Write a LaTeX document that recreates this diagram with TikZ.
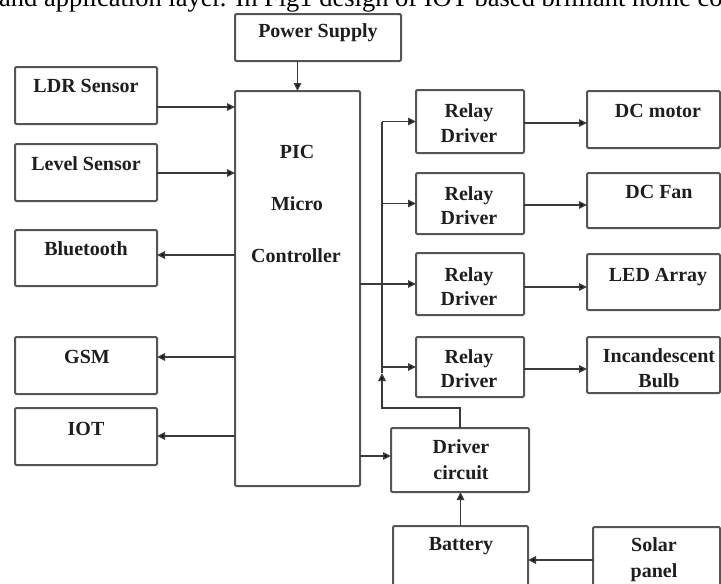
\documentclass[tikz,border=0pt]{standalone}
\usepackage{fontspec}
\setmainfont{Liberation Serif}
\usetikzlibrary{arrows.meta,fit}
\definecolor{boxc}{HTML}{555555}
\definecolor{linec}{HTML}{3A3A3A}
\definecolor{txtc}{HTML}{1E1E1E}
\begin{document}
\begin{tikzpicture}[x=1pt,y=-1pt,
  box/.style={draw=boxc, line width=2pt, rounded corners=1.2pt, inner sep=0pt, outer sep=0pt},
  txt/.style={font=\bfseries\fontsize{20}{24}\selectfont, inner sep=0pt, anchor=base, text=txtc},
  conn/.style={draw=linec, line width=1.6pt},
  arr/.style={conn, -{Triangle[length=8pt,width=7.5pt,fill=black]}}]
\useasboundingbox (0,0) rectangle (721,584);

% cut-off line of running text above the figure
\node[font=\fontsize{26.5}{30}\selectfont, anchor=base west, inner sep=0pt, text=black] (hdr) at (-1,6.5)
  {and application layer. In Fig1 design of IOT based brilliant home co};

% boxes
\node[box, fit={(235,14) (401,61)}] (ps) {};
\node[box, fit={(15,67) (157,124)}] (ldr) {};
\node[box, fit={(15,144) (157,201)}] (lvl) {};
\node[box, fit={(15,230) (157,286)}] (bt) {};
\node[box, fit={(15,337) (157,394)}] (gsm) {};
\node[box, fit={(15,408) (157,465)}] (iot) {};
\node[box, fit={(235,91) (360,486)}] (pic) {};
\node[box, fit={(416,90) (524,153)}] (rd1) {};
\node[box, fit={(416,173) (524,234)}] (rd2) {};
\node[box, fit={(416,253) (524,315)}] (rd3) {};
\node[box, fit={(416,337) (524,397)}] (rd4) {};
\node[box, fit={(587,91) (720,148)}] (dcm) {};
\node[box, fit={(587,173) (720,228)}] (fan) {};
\node[box, fit={(587,254) (720,310)}] (led) {};
\node[box, fit={(587,337) (720,393)}] (bulb) {};
\node[box, fit={(391,428) (529,492)}] (drv) {};
\node[box, fit={(393,526) (528,600)}] (bat) {};
\node[box, fit={(593,527) (720,600)}] (sol) {};

% texts
\node[txt] (ps-t) at (318,37) {Power Supply};
\node[txt] (ldr-t) at (86,92) {LDR Sensor};
\node[txt] (lvl-t) at (86,170) {Level Sensor};
\node[txt] (bt-t) at (86,255) {Bluetooth};
\node[txt] (gsm-t) at (87,363) {GSM};
\node[txt] (iot-t) at (86,435) {IOT};
\node[txt] (pic-t1) at (297,158) {PIC};
\node[txt] (pic-t2) at (297,210) {Micro};
\node[txt] (pic-t3) at (296,262) {Controller};
\node[txt] (rd1-t1) at (469,117) {Relay};
\node[txt] (rd1-t2) at (469,142) {Driver};
\node[txt] (rd2-t1) at (469,200) {Relay};
\node[txt] (rd2-t2) at (469,224) {Driver};
\node[txt] (rd3-t1) at (469,281) {Relay};
\node[txt] (rd3-t2) at (469,305) {Driver};
\node[txt] (rd4-t1) at (469,363) {Relay};
\node[txt] (rd4-t2) at (469,387) {Driver};
\node[txt] (dcm-t) at (658,117) {DC motor};
\node[txt] (fan-t) at (659,198) {DC Fan};
\node[txt] (led-t) at (658,281) {LED Array};
\node[txt] (bulb-t1) at (659,362) {Incandescent};
\node[txt] (bulb-t2) at (659,387) {Bulb};
\node[txt] (drv-t1) at (461,453) {Driver};
\node[txt] (drv-t2) at (461,479) {circuit};
\node[txt] (bat-t) at (461,550) {Battery};
\node[txt] (sol-t1) at (654,551) {Solar};
\node[txt] (sol-t2) at (654,577) {panel};

% connectors
\draw[arr] (pic.north |- ps.south) -- (pic.north);
\draw[arr] (ldr.east |- 0,107) -- (pic.west |- 0,107);
\draw[arr] (lvl.east |- 0,173) -- (pic.west |- 0,173);
\draw[arr] (pic.west |- 0,255) -- (bt.east |- 0,255);
\draw[arr] (pic.west |- 0,357) -- (gsm.east |- 0,357);
\draw[arr] (pic.west |- 0,436) -- (iot.east |- 0,436);
\draw[arr] (pic.east |- rd3.west) -- (rd3.west);
\draw[arr] (pic.east |- 0,456) -- (drv.west |- 0,456);

\coordinate (busTop) at (382,0 |- rd1.west);
\coordinate (busBot) at (382,408);
\coordinate (busArr) at (382,373);
\draw[arr] (drv.north) |- (busBot) -- (busArr);
\draw[conn] (busArr) -- (busTop);
\draw[arr] (busTop) -- (rd1.west);
\draw[arr] (busTop |- rd2.west) -- (rd2.west);
\draw[arr] (busTop |- rd4.west) -- (rd4.west);

\draw[arr] (rd1.east |- 0,123) -- (dcm.west |- 0,123);
\draw[arr] (rd2.east |- 0,205) -- (fan.west |- 0,205);
\draw[arr] (rd3.east |- 0,287) -- (led.west |- 0,287);
\draw[arr] (rd4.east |- 0,369) -- (bulb.west |- 0,369);

\draw[arr] (bat.north) -- (bat.north |- drv.south);
\draw[arr] (sol.west |- 0,560) -- (bat.east |- 0,560);
\end{tikzpicture}
\end{document}
